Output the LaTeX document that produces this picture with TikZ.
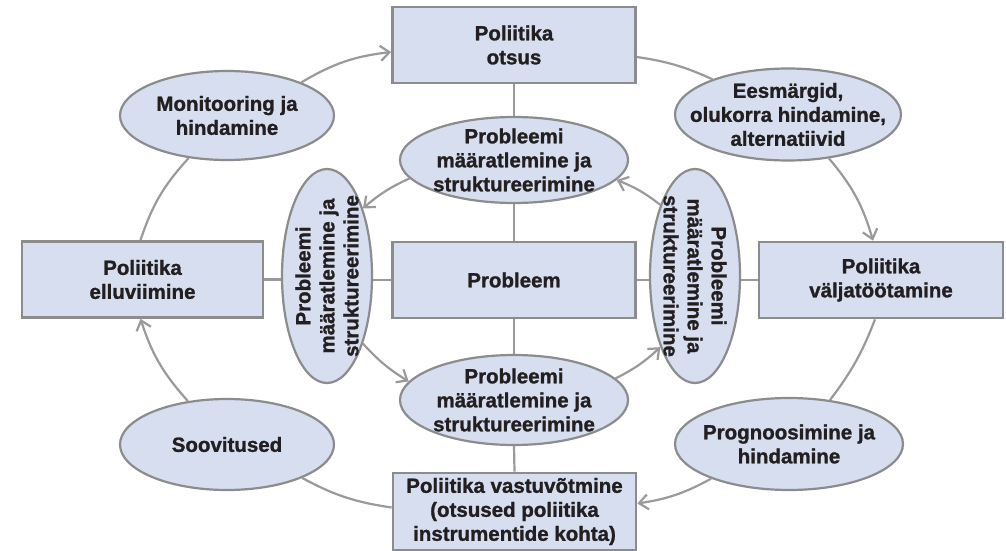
\documentclass[tikz,border=0pt]{standalone}
\usepackage{fontspec}
\setmainfont{Liberation Sans}
\newfontfamily\heavyfont{Liberation Sans Bold}[FakeBold=1.2]
\usetikzlibrary{shapes.geometric,arrows.meta}
\definecolor{fillc}{HTML}{D6DEEF}
\definecolor{edgec}{HTML}{8C8C8C}
\definecolor{linec}{HTML}{9A9A9A}
\definecolor{txtc}{HTML}{231F20}
\newcommand\dgfont{\heavyfont\fontsize{20.5}{24}\selectfont}
\begin{document}
\begin{tikzpicture}[x=1pt,y=1pt,
 box/.style={draw=edgec, line width=2.7pt, fill=fillc, minimum width=243pt, minimum height=76pt, inner sep=0pt, align=center, font=\dgfont, text=txtc},
 oval/.style={ellipse, draw=edgec, line width=2.2pt, fill=fillc, inner sep=0pt},
 lbl/.style={align=center, font=\dgfont, text=txtc, inner sep=0pt},
 conn/.style={draw=linec, line width=2.2pt},
 arr/.style={conn, -{Straight Barb[length=9pt,width=15pt]}}]
\useasboundingbox (0,0) rectangle (1006,-551);

% boxes
\node[box] (top) at (514,-45) {Poliitika\\otsus};
\node[box] (prob) at (514,-280) {Probleem};
\node[box, minimum height=77pt] (bot) at (514.5,-511.5) {Poliitika vastuvõtmine\\(otsused poliitika\\instrumentide kohta)};
\node[box, minimum width=241pt] (left) at (142.5,-279.5) {Poliitika\\elluviimine};
\node[box, minimum width=244pt] (right) at (881,-280) {Poliitika\\väljatöötamine};

% inner ellipses
\node[oval, minimum width=228pt, minimum height=86pt,
  label={[lbl]center:Probleemi\\määratlemine ja\\struktureerimine}] (pt) at (514,-160) {};
\node[oval, minimum width=228pt, minimum height=90pt,
  label={[lbl]center:Probleemi\\määratlemine ja\\struktureerimine}] (pb) at (514,-400) {};
\node[oval, minimum width=90pt, minimum height=214pt,
  label={[lbl,rotate=90]center:Probleemi\\määratlemine ja\\struktureerimine}] (pl) at (327,-276) {};
\node[oval, minimum width=90pt, minimum height=214pt,
  label={[lbl,rotate=-90]center:Probleemi\\määratlemine ja\\struktureerimine}] (pr) at (695,-276) {};

% outer ellipses
\node[oval, minimum width=214pt, minimum height=89pt,
  label={[lbl]center:Monitooring ja\\hindamine}] (mon) at (227,-115.5) {};
\node[oval, minimum width=226pt, minimum height=92pt,
  label={[lbl]center:Eesmärgid,\\olukorra hindamine,\\alternatiivid}] (eesm) at (788,-114.5) {};
\node[oval, minimum width=228pt, minimum height=92pt,
  label={[lbl]center:Prognoosimine ja\\hindamine}] (prog) at (789,-444) {};
\node[oval, minimum width=214pt, minimum height=91pt,
  label={[lbl]center:Soovitused}] (soov) at (227,-444.5) {};

% straight inner connectors
\draw[conn] (top.south) -- (pt.north);
\draw[conn] (pt.south) -- (prob.north);
\draw[conn] (prob.south) -- (pb.north);
\draw[conn] (pb.south) -- (bot.north);
\draw[conn] (left.east) -- (left.east -| pl.west);
\draw[conn] (prob.west -| pl.east) -- (prob.west);
\draw[conn] (prob.east) -- (prob.east -| pr.west);
\draw[conn] (right.west -| pr.east) -- (right.west);

% outer ring
\draw[arr] (mon.24) to[bend left=12] ([yshift=-7pt]top.west);
\draw[conn] ([yshift=-12pt]top.east) to[bend left=8] (eesm.155);
\draw[arr] (eesm.-47) to[bend left=12] ([xshift=-8pt]right.north);
\draw[conn] ([xshift=-6pt]right.south) to[bend left=8] (prog.47);
\draw[arr] (prog.204) to[bend left=10] ([yshift=8pt]bot.east);
\draw[conn] ([yshift=4pt]bot.west) to[bend left=10] (soov.-24);
\draw[arr] (soov.132) to[bend left=12] ([xshift=-2pt]left.south);
\draw[conn] ([xshift=-2pt]left.north) to[bend left=12] (mon.228);

% inner ring
\draw[arr] (pt.190) to[bend right=8] (pl.62);
\draw[arr] (pl.-62) to[bend right=8] (pb.170);
\draw[arr] (pb.12) to[bend right=8] (pr.244);
\draw[arr] (pr.116) to[bend right=8] (pt.349);
\end{tikzpicture}
\end{document}
